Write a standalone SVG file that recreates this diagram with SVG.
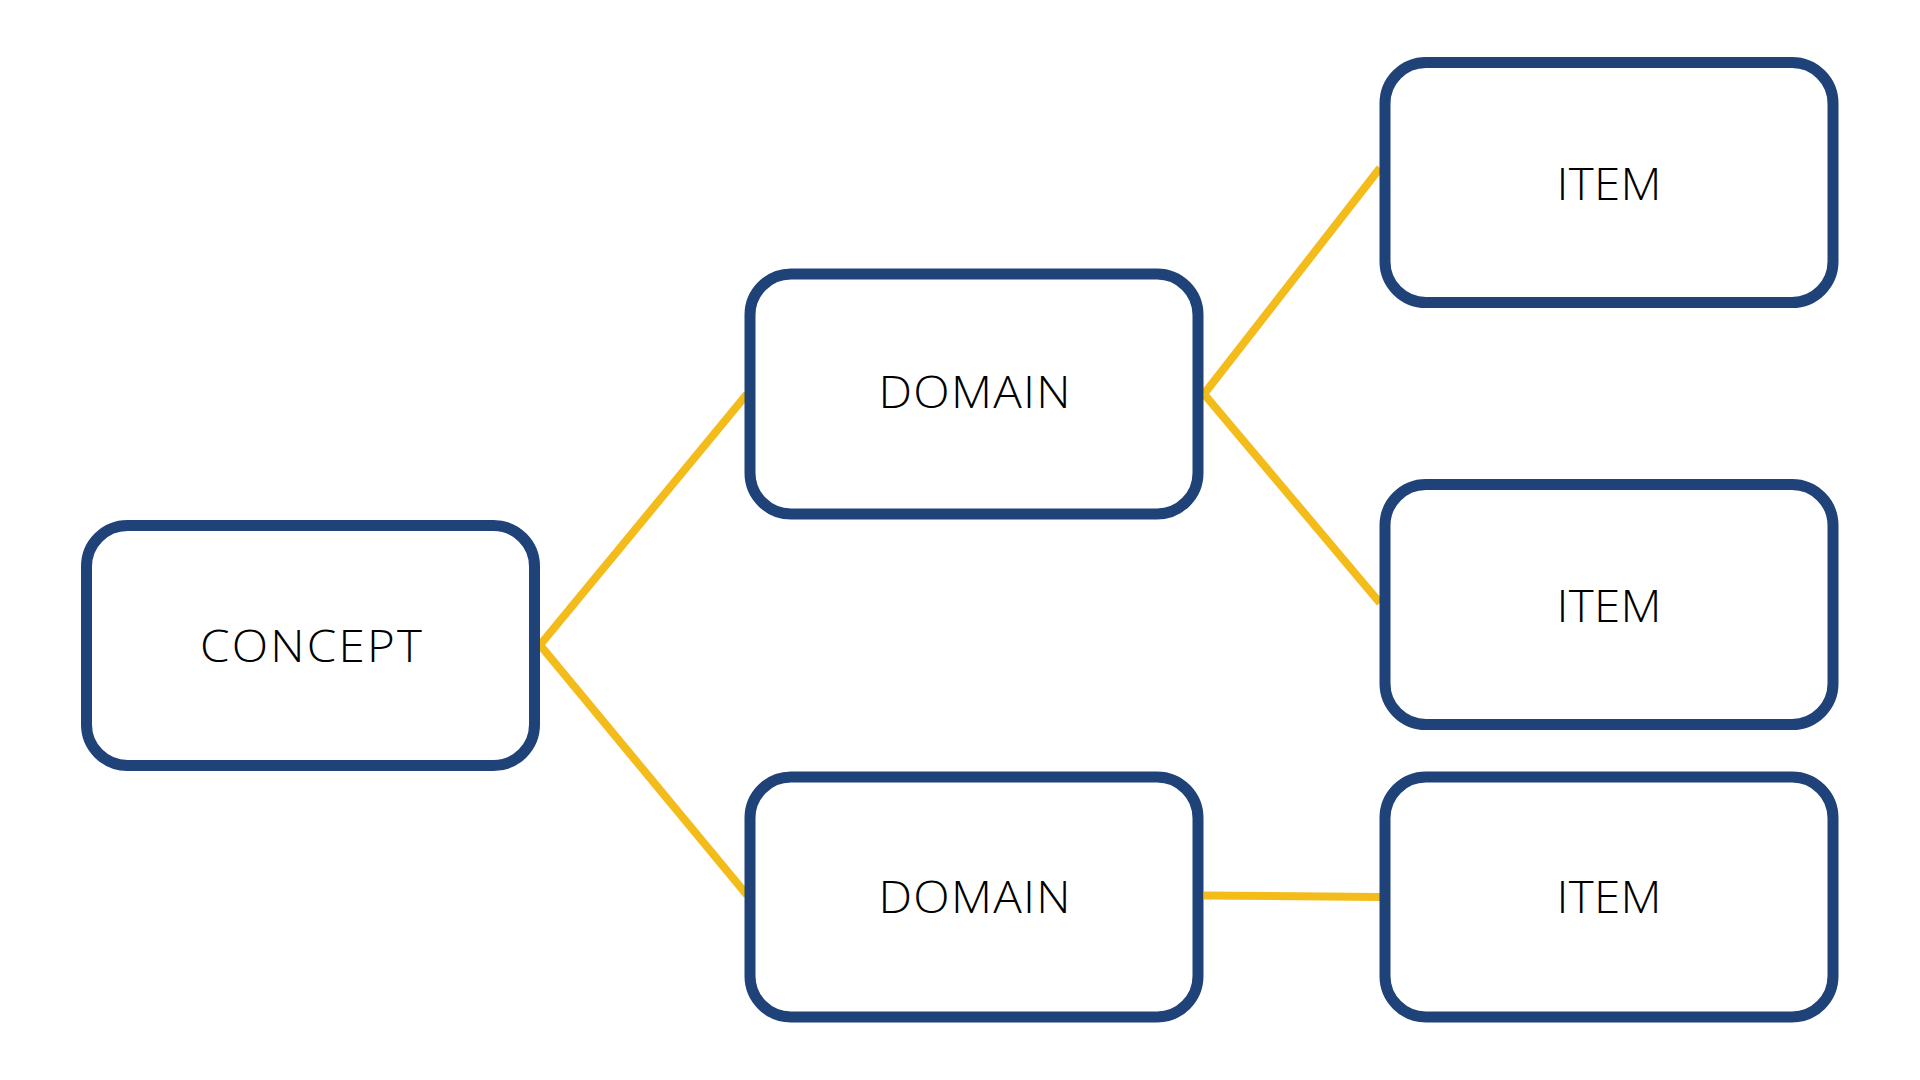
<svg xmlns="http://www.w3.org/2000/svg" width="1920" height="1080" viewBox="0 0 1920 1080">
<style>
.box{fill:#ffffff;stroke:#1F4279;stroke-width:11}
.lbl{font-family:"Open Sans","Lato","Liberation Sans",sans-serif;font-weight:300;font-size:44px;fill:#000000;text-anchor:middle}
.con{stroke:#F3BC1B;stroke-width:8;stroke-linecap:butt;fill:none}
</style>
<rect x="0" y="0" width="1920" height="1080" fill="#ffffff"/>
<g id="connectors">
<line class="con" x1="540" y1="645" x2="747" y2="394"/>
<line class="con" x1="540" y1="645" x2="747" y2="895"/>
<line class="con" x1="1204" y1="394" x2="1380" y2="168"/>
<line class="con" x1="1204" y1="394" x2="1380" y2="603"/>
<line class="con" x1="1204" y1="895.5" x2="1380" y2="897"/>
</g>
<g id="concept">
<rect class="box" x="86.5" y="525.5" width="448" height="240" rx="41" ry="41"/>
<text class="lbl" transform="translate(311,662) scale(1.08,1)" x="0" y="0" textLength="205.5" lengthAdjust="spacing">CONCEPT</text>
</g>
<g id="domain1">
<rect class="box" x="750" y="274" width="448" height="240" rx="41" ry="41"/>
<text class="lbl" transform="translate(974.5,408) scale(1.08,1)" x="0" y="0" textLength="177.8" lengthAdjust="spacing">DOMAIN</text>
</g>
<g id="domain2">
<rect class="box" x="750" y="777" width="448" height="240" rx="41" ry="41"/>
<text class="lbl" transform="translate(974.5,913) scale(1.08,1)" x="0" y="0" textLength="177.8" lengthAdjust="spacing">DOMAIN</text>
</g>
<g id="item1">
<rect class="box" x="1385" y="62.5" width="448" height="240" rx="41" ry="41"/>
<text class="lbl" transform="translate(1609,199.5) scale(1.08,1)" x="0" y="0" textLength="97.2" lengthAdjust="spacing">ITEM</text>
</g>
<g id="item2">
<rect class="box" x="1385" y="484.5" width="448" height="240" rx="41" ry="41"/>
<text class="lbl" transform="translate(1609,622) scale(1.08,1)" x="0" y="0" textLength="97.2" lengthAdjust="spacing">ITEM</text>
</g>
<g id="item3">
<rect class="box" x="1385" y="777" width="448" height="240" rx="41" ry="41"/>
<text class="lbl" transform="translate(1609,913) scale(1.08,1)" x="0" y="0" textLength="97.2" lengthAdjust="spacing">ITEM</text>
</g>
</svg>
